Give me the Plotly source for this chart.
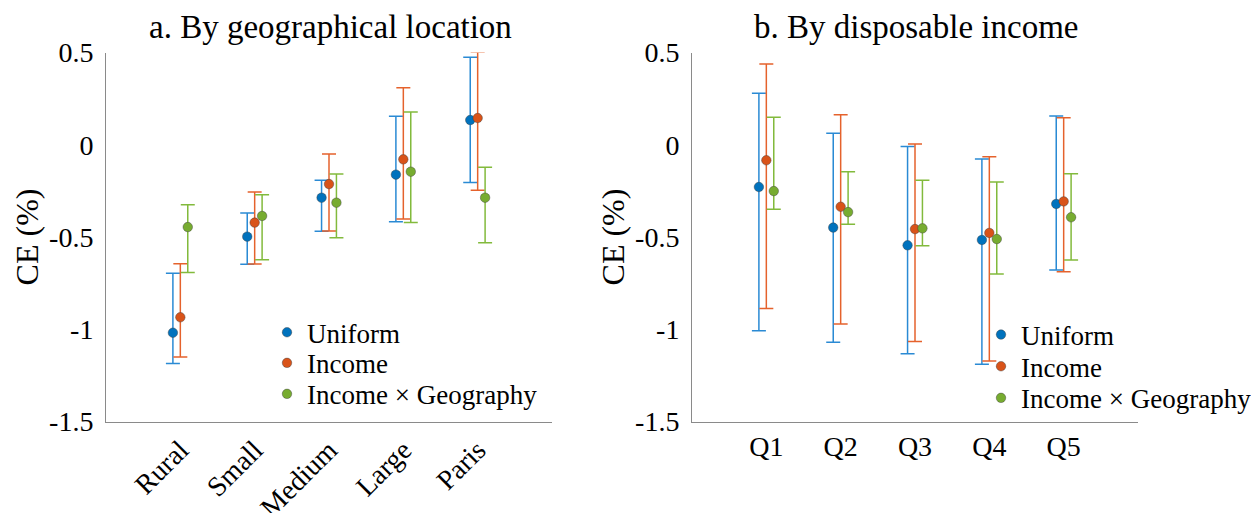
import plotly.graph_objects as go

# ---------------- data ----------------
geo_categories = ["Rural", "Small", "Medium", "Large", "Paris"]
inc_categories = ["Q1", "Q2", "Q3", "Q4", "Q5"]
series_names = ["Uniform", "Income", "Income × Geography"]

# panel a: by geographical location
geo_uniform_mean = [-1.019, -0.498, -0.287, -0.162, 0.134]
geo_uniform_low = [-1.185, -0.648, -0.469, -0.417, -0.204]
geo_uniform_high = [-0.697, -0.370, -0.193, 0.154, 0.474]

geo_income_mean = [-0.935, -0.422, -0.213, -0.079, 0.145]
geo_income_low = [-1.150, -0.646, -0.467, -0.402, -0.247]
geo_income_high = [-0.645, -0.256, -0.050, 0.309, 0.503]

geo_incgeo_mean = [-0.446, -0.386, -0.314, -0.146, -0.287]
geo_incgeo_low = [-0.693, -0.623, -0.504, -0.422, -0.531]
geo_incgeo_high = [-0.325, -0.271, -0.159, 0.178, -0.122]

# panel b: by disposable income
inc_uniform_mean = [-0.229, -0.449, -0.545, -0.516, -0.321]
inc_uniform_low = [-1.008, -1.071, -1.133, -1.190, -0.679]
inc_uniform_high = [0.279, 0.062, -0.009, -0.077, 0.156]

inc_income_mean = [-0.084, -0.336, -0.457, -0.478, -0.307]
inc_income_low = [-0.887, -0.972, -1.066, -1.172, -0.688]
inc_income_high = [0.438, 0.163, 0.004, -0.065, 0.147]

inc_incgeo_mean = [-0.251, -0.365, -0.453, -0.511, -0.393]
inc_incgeo_low = [-0.350, -0.431, -0.547, -0.701, -0.625]
inc_incgeo_high = [0.149, -0.146, -0.193, -0.202, -0.157]

y_tickvals = [0.5, 0, -0.5, -1, -1.5]
y_ticktext = ["0.5", "0", "-0.5", "-1", "-1.5"]

# ---------------- style ----------------
FONT = "Liberation Serif"
marker_colors = ["#0072BD", "#D95319", "#77AC30"]
bar_colors = ["#2a8ad4", "#e5622c", "#82ba3c"]
offsets = [-0.1, 0.0, 0.1]

# page offset compensation (browser body margin)
OX, OY = 8, 8
W, H = 1259, 513


def px_x(v):
    return (v - OX) / W


def px_y(v):
    return (H - (v - OY)) / H


fig = go.Figure()

panels = [
    ("x", "y", 0, geo_categories,
     [(geo_uniform_mean, geo_uniform_low, geo_uniform_high),
      (geo_income_mean, geo_income_low, geo_income_high),
      (geo_incgeo_mean, geo_incgeo_low, geo_incgeo_high)]),
    ("x2", "y2", 3, inc_categories,
     [(inc_uniform_mean, inc_uniform_low, inc_uniform_high),
      (inc_income_mean, inc_income_low, inc_income_high),
      (inc_incgeo_mean, inc_incgeo_low, inc_incgeo_high)]),
]

for xa, ya, leg0, cats, series in panels:
    for k, (mean, low, high) in enumerate(series):
        xs = [i + 1 + offsets[k] for i in range(len(cats))]
        n = leg0 + k + 1
        fig.add_trace(go.Scatter(
            x=xs, y=mean, mode="markers", name=series_names[k],
            xaxis=xa, yaxis=ya, legend="legend" if n == 1 else f"legend{n}",
            showlegend=True,
            marker=dict(color=marker_colors[k], size=9.5,
                        line=dict(color="rgba(60,60,60,0.55)", width=0.8)),
            error_y=dict(type="data", symmetric=False,
                         array=[h - m for h, m in zip(high, mean)],
                         arrayminus=[m - l for m, l in zip(mean, low)],
                         color=bar_colors[k], thickness=1.5, width=7),
            hoverinfo="skip",
        ))

axis_common = dict(showline=True, linecolor="#8a8a8a", linewidth=1,
                   showgrid=False, zeroline=False, ticks="", automargin=False,
                   tickfont=dict(family=FONT, size=28, color="black"))

ydom = [px_y(421.5), px_y(52.5)]

# one legend box per entry (rows placed like the reference)
legend_rows = {1: (267, 332.7), 2: (267, 363.3), 3: (267, 394.3),
               4: (981, 335.0), 5: (981, 366.7), 6: (981, 398.3)}
legends = {}
for n, (lx, ly) in legend_rows.items():
    legends["legend" if n == 1 else f"legend{n}"] = dict(
        x=px_x(lx), y=px_y(ly), xanchor="left", yanchor="middle",
        bgcolor="rgba(0,0,0,0)", borderwidth=0,
        font=dict(family=FONT, size=27, color="black"))

fig.update_layout(
    width=W, height=H,
    showlegend=True,
    margin=dict(l=0, r=0, t=0, b=0, autoexpand=False),
    paper_bgcolor="white", plot_bgcolor="white",
    font=dict(family=FONT, color="black"),
    xaxis=dict(domain=[px_x(106), px_x(552)], range=[0, 6],
               tickvals=[1, 2, 3, 4, 5], ticktext=geo_categories,
               tickangle=-45, anchor="y", ticklabelstandoff=0, **axis_common),
    yaxis=dict(domain=ydom, range=[-1.5, 0.5],
               tickvals=y_tickvals, ticktext=y_ticktext, anchor="x",
               ticklabelstandoff=6,
               title=dict(text="CE (%)", font=dict(family=FONT, size=32),
                          standoff=0),
               **axis_common),
    xaxis2=dict(domain=[px_x(692), px_x(1138)], range=[0, 6],
                tickvals=[1, 2, 3, 4, 5], ticktext=inc_categories,
                anchor="y2", ticklabelstandoff=0, **axis_common),
    yaxis2=dict(domain=ydom, range=[-1.5, 0.5],
                tickvals=y_tickvals, ticktext=y_ticktext, anchor="x2",
                ticklabelstandoff=6,
                title=dict(text="CE (%)", font=dict(family=FONT, size=32),
                           standoff=0),
                **axis_common),
    annotations=[
        dict(text="a. By geographical location", x=px_x(330), y=px_y(27),
             xref="paper", yref="paper", showarrow=False,
             font=dict(family=FONT, size=33), xanchor="center", yanchor="middle"),
        dict(text="b. By disposable income", x=px_x(916), y=px_y(27),
             xref="paper", yref="paper", showarrow=False,
             font=dict(family=FONT, size=33), xanchor="center", yanchor="middle"),
    ],
    **legends,
)

fig.write_html("out.html")
